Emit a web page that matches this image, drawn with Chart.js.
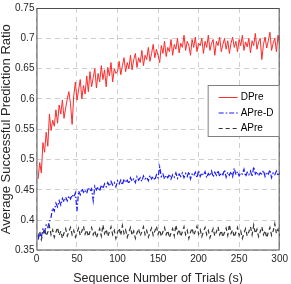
<!DOCTYPE html>
<html>
<head>
<meta charset="utf-8">
<script src="https://cdn.jsdelivr.net/npm/chart.js@4"></script>
<style>
  html, body { margin: 0; padding: 0; background: #fff; }
  #wrap { width: 291px; height: 284px; }
</style>
</head>
<body>
<div id="wrap"><canvas id="trialsChart" width="291" height="284"></canvas></div>
<script>
// sampled every 2 trials, x = 2..300
var trials = Array.from({ length: 150 }, function (_, i) { return (i + 1) * 2; });

var dPre = [
  0.468,0.495,0.478,0.528,0.512,0.545,0.522,0.575,0.548,0.565,
  0.555,0.582,0.560,0.590,0.575,0.598,0.568,0.585,0.600,0.612,
  0.592,0.558,0.605,0.628,0.598,0.615,0.632,0.600,0.622,0.608,
  0.638,0.612,0.645,0.620,0.635,0.650,0.618,0.642,0.628,0.655,
  0.632,0.648,0.620,0.652,0.638,0.660,0.628,0.650,0.642,0.645,
  0.662,0.640,0.655,0.668,0.645,0.660,0.650,0.672,0.648,0.665,
  0.675,0.652,0.668,0.660,0.680,0.655,0.672,0.665,0.685,0.662,
  0.675,0.690,0.668,0.682,0.672,0.660,0.688,0.675,0.695,0.670,
  0.685,0.678,0.698,0.672,0.690,0.682,0.700,0.676,0.692,0.685,
  0.705,0.680,0.695,0.688,0.672,0.698,0.685,0.702,0.678,0.692,
  0.688,0.700,0.675,0.695,0.685,0.705,0.680,0.692,0.698,0.672,
  0.695,0.688,0.702,0.678,0.690,0.700,0.682,0.696,0.675,0.692,
  0.702,0.685,0.695,0.678,0.698,0.688,0.705,0.680,0.694,0.686,
  0.700,0.676,0.696,0.688,0.708,0.682,0.694,0.700,0.665,0.690,
  0.702,0.684,0.696,0.710,0.680,0.692,0.700,0.678,0.705,0.690
];

var aPreD = [
  0.368,0.378,0.372,0.385,0.380,0.392,0.388,0.398,0.405,0.420,
  0.415,0.428,0.422,0.432,0.425,0.436,0.430,0.438,0.432,0.440,
  0.435,0.442,0.438,0.445,0.415,0.448,0.442,0.452,0.446,0.450,
  0.444,0.454,0.448,0.452,0.432,0.456,0.450,0.455,0.448,0.458,
  0.452,0.460,0.455,0.462,0.456,0.464,0.458,0.462,0.455,0.465,
  0.460,0.466,0.458,0.468,0.462,0.466,0.460,0.470,0.464,0.468,
  0.462,0.472,0.466,0.470,0.464,0.473,0.468,0.471,0.465,0.474,
  0.468,0.472,0.466,0.475,0.470,0.488,0.472,0.476,0.468,0.474,
  0.470,0.476,0.468,0.475,0.471,0.478,0.469,0.476,0.472,0.478,
  0.470,0.477,0.472,0.480,0.468,0.476,0.473,0.479,0.470,0.482,
  0.472,0.478,0.474,0.480,0.470,0.477,0.473,0.481,0.471,0.479,
  0.474,0.482,0.472,0.478,0.475,0.483,0.471,0.479,0.474,0.480,
  0.472,0.486,0.475,0.480,0.473,0.478,0.476,0.484,0.472,0.479,
  0.475,0.481,0.472,0.488,0.476,0.480,0.473,0.478,0.476,0.482,
  0.472,0.479,0.476,0.483,0.470,0.478,0.475,0.481,0.473,0.478
];

var aPre = [
  0.372,0.382,0.368,0.378,0.386,0.374,0.380,0.390,0.376,0.384,
  0.372,0.380,0.388,0.375,0.382,0.370,0.379,0.386,0.374,0.381,
  0.388,0.376,0.383,0.372,0.380,0.387,0.375,0.382,0.390,0.377,
  0.384,0.373,0.381,0.388,0.376,0.383,0.371,0.379,0.386,0.374,
  0.392,0.378,0.385,0.373,0.381,0.389,0.376,0.383,0.370,0.380,
  0.387,0.375,0.391,0.378,0.384,0.372,0.380,0.388,0.375,0.382,
  0.370,0.379,0.386,0.374,0.381,0.389,0.376,0.383,0.372,0.380,
  0.387,0.375,0.382,0.390,0.377,0.384,0.373,0.381,0.388,0.376,
  0.383,0.371,0.379,0.386,0.374,0.392,0.378,0.385,0.373,0.381,
  0.389,0.376,0.383,0.370,0.380,0.387,0.375,0.382,0.390,0.377,
  0.384,0.373,0.381,0.388,0.376,0.383,0.371,0.379,0.386,0.374,
  0.381,0.389,0.376,0.383,0.372,0.380,0.387,0.375,0.393,0.378,
  0.384,0.372,0.380,0.388,0.375,0.382,0.370,0.379,0.386,0.374,
  0.381,0.389,0.376,0.392,0.378,0.385,0.373,0.381,0.389,0.376,
  0.383,0.371,0.380,0.388,0.375,0.382,0.394,0.378,0.385,0.374
];

var seriesNames = ['DPre', 'APre-D', 'APre'];

var sans = '"Liberation Sans", Arial, sans-serif';

function toPoints(vals) {
  return vals.map(function (v, i) { return { x: trials[i], y: v }; });
}

// frame round the plot + legend box inside it
var framePlugin = {
  id: 'frame',
  afterDatasetsDraw: function (chart) {
    var ctx = chart.ctx, a = chart.chartArea;
    ctx.save();
    ctx.strokeStyle = '#4d4d4d';
    ctx.lineWidth = 1;
    ctx.setLineDash([]);
    ctx.strokeRect(a.left + 0.5, a.top + 0.5, a.right - a.left - 1, a.bottom - a.top - 1);

    // legend
    var bw = 72, bh = 52;
    var bx = a.right - bw, by = a.top + 77;
    ctx.fillStyle = '#fff';
    ctx.fillRect(bx, by, bw, bh);
    ctx.strokeStyle = '#7f7f7f';
    ctx.strokeRect(bx + 0.5, by + 0.5, bw - 1, bh - 1);
    ctx.font = '10px ' + sans;
    ctx.textBaseline = 'middle';
    chart.data.datasets.forEach(function (ds, i) {
      var yy = by + 12 + i * 15.5;
      ctx.strokeStyle = ds.borderColor;
      ctx.lineWidth = ds.borderWidth;
      ctx.setLineDash(ds.borderDash || []);
      ctx.beginPath();
      ctx.moveTo(bx + 11, yy + 0.5);
      ctx.lineTo(bx + 30, yy + 0.5);
      ctx.stroke();
      ctx.fillStyle = '#000';
      ctx.fillText(ds.label, bx + 33, yy + 0.5);
    });
    ctx.restore();
  }
};

var ctx1 = document.getElementById('trialsChart');
var trialsChart = new Chart(ctx1, {
  type: 'line',
  data: {
    datasets: [{
      label: seriesNames[0],
      data: toPoints(dPre),
      borderColor: '#ff2a2a',
      borderWidth: 1,
      pointRadius: 0,
      tension: 0
    }, {
      label: seriesNames[1],
      data: toPoints(aPreD),
      borderColor: '#1a1aff',
      borderWidth: 1.2,
      borderDash: [5, 2, 1.5, 2],
      pointRadius: 0,
      tension: 0
    }, {
      label: seriesNames[2],
      data: toPoints(aPre),
      borderColor: '#333333',
      borderWidth: 1.2,
      borderDash: [4, 3],
      pointRadius: 0,
      tension: 0
    }]
  },
  options: {
    responsive: false,
    animation: false,
    layout: { padding: { left: 0, right: 9, top: -4, bottom: -1 } },
    plugins: {
      legend: { display: false },
      tooltip: { enabled: false }
    },
    scales: {
      x: {
        type: 'linear',
        min: 0,
        max: 300,
        ticks: {
          stepSize: 50,
          color: '#262626',
          font: { family: sans, size: 10 },
          padding: 3,
          maxRotation: 0
        },
        grid: { color: '#cfcfcf', drawTicks: false, tickLength: 0 },
        border: { display: true, color: 'rgba(0,0,0,0)', dash: [5, 4] },
        title: {
          display: true,
          text: 'Sequence Number of Trials (s)',
          color: '#262626',
          font: { family: sans, size: 12.5, lineHeight: 1 },
          padding: { top: 4, bottom: 0 }
        }
      },
      y: {
        min: 0.35,
        max: 0.75,
        ticks: {
          stepSize: 0.05,
          color: '#262626',
          font: { family: sans, size: 10 },
          padding: 2,
          callback: function (v) { return +v.toFixed(2); }
        },
        grid: { color: '#cfcfcf', drawTicks: false, tickLength: 0 },
        border: { display: true, color: 'rgba(0,0,0,0)', dash: [5, 4] },
        title: {
          display: true,
          text: 'Average Successful Prediction Ratio',
          color: '#262626',
          font: { family: sans, size: 13, lineHeight: 1 },
          padding: { top: 0, bottom: 0 }
        }
      }
    }
  },
  plugins: [framePlugin]
});
</script>
</body>
</html>
